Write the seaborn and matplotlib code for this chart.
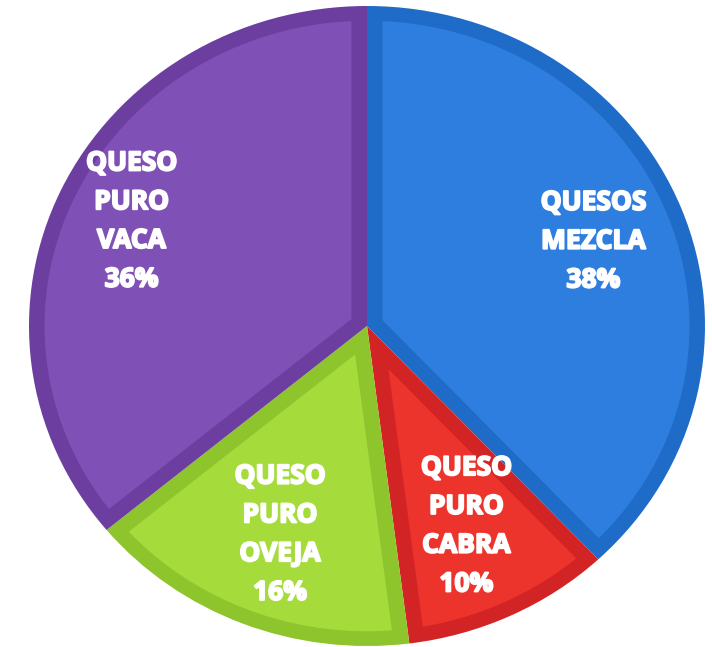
import numpy as np
import matplotlib
matplotlib.use("Agg")
import matplotlib.pyplot as plt
import matplotlib.patheffects as pe
from matplotlib.patches import Polygon
import seaborn as sns

# -----------------------------
# Data
# -----------------------------
labels = ["QUESOS\nMEZCLA", "QUESO\nPURO\nCABRA", "QUESO\nPURO\nOVEJA", "QUESO\nPURO\nVACA"]
shares = [38, 10, 16, 36]

fill_colors = ["#2E7EE0", "#EC342C", "#A6DB3C", "#7F50B6"]
edge_colors = ["#1F6CC8", "#D22424", "#8EC42C", "#6C3EA0"]
label_dist = [0.72, 0.69, 0.70, 0.77]

sns.set_theme(style="white")
plt.rcParams['font.family'] = ['Open Sans', 'DejaVu Sans']

W, H = 712, 647
fig = plt.figure(figsize=(W / 100, H / 100), dpi=100)

# pie is slightly wider than tall in the reference
cx, cy, rx, ry = 367, 326, 338, 320
ax = fig.add_axes([(cx - rx) / W, (H - cy - ry) / H, 2 * rx / W, 2 * ry / H])

# outer wedges in the darker border colour
wedges, texts = ax.pie(
    shares,
    labels=[f"{l}\n{v}%" for l, v in zip(labels, shares)],
    colors=edge_colors,
    startangle=90,
    counterclock=False,
    radius=1,
    frame=True,
    labeldistance=0.72,
    wedgeprops=dict(linewidth=0),
    textprops=dict(color="white", fontsize=19, fontweight="bold",
                   ha="center", va="center", linespacing=1.56, zorder=5),
)
ax.set_xlim(-1, 1)
ax.set_ylim(-1, 1)
ax.set_aspect('auto')
ax.axis('off')


def inset_wedge(t1, t2, r, d, n=120):
    # wedge shrunk inward by d on every side
    a1, a2 = np.deg2rad(t1), np.deg2rad(t2)
    half = (a2 - a1) / 2
    mid = a1 + half
    apex = d / np.sin(half) * np.array([np.cos(mid), np.sin(mid)])
    t = np.sqrt((r - d) ** 2 - d ** 2)
    delta = np.arctan2(d, t)
    arc = np.linspace(a1 + delta, a2 - delta, n)
    pts = np.column_stack([(r - d) * np.cos(arc), (r - d) * np.sin(arc)])
    return np.vstack([apex, pts])


band = 0.046
for w, fc in zip(wedges, fill_colors):
    ax.add_patch(Polygon(inset_wedge(w.theta1, w.theta2, w.r, band),
                         closed=True, facecolor=fc, edgecolor="none", zorder=2))

# move labels onto each slice's mid angle
for w, t, d in zip(wedges, texts, label_dist):
    ang = np.deg2rad((w.theta1 + w.theta2) / 2)
    t.set_position((d * np.cos(ang), d * np.sin(ang)))
    t.set_ha("center")
    t.set_va("center")
    t.set_multialignment("center")
    t.set_path_effects([pe.withStroke(linewidth=1.4, foreground="white")])

plt.savefig("out.png", dpi=100)
plt.close()
